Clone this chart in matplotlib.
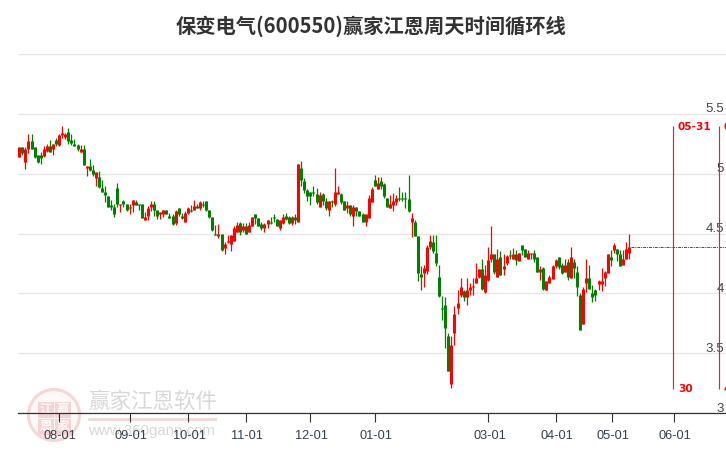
import matplotlib
matplotlib.use("Agg")
import matplotlib.pyplot as plt
from matplotlib.patches import Circle, Rectangle
from matplotlib.transforms import ScaledTranslation

title = "保变电气(600550)赢家江恩周天时间循环线"

opens = [5.14,5.22,5.10,5.21,5.27,5.22,5.16,5.16,5.15,5.19,
5.23,5.21,5.28,5.24,5.32,5.31,5.35,5.28,5.25,5.24,
5.18,5.21,5.05,5.06,5.03,4.96,4.97,4.88,4.85,4.81,
4.74,4.72,4.88,4.74,4.77,4.75,4.71,4.74,4.76,4.75,
4.75,4.61,4.65,4.72,4.75,4.70,4.66,4.66,4.70,4.65,
4.65,4.59,4.71,4.65,4.60,4.67,4.70,4.70,4.73,4.71,
4.75,4.77,4.70,4.64,4.50,4.48,4.50,4.38,4.43,4.41,
4.44,4.51,4.59,4.53,4.56,4.51,4.56,4.66,4.63,4.58,
4.55,4.58,4.60,4.64,4.62,4.55,4.59,4.65,4.64,4.59,
4.64,4.60,5.05,4.94,4.86,4.85,4.85,4.83,4.72,4.83,
4.77,4.70,4.77,4.75,4.83,4.83,4.77,4.71,4.74,4.65,
4.72,4.69,4.66,4.60,4.63,4.76,4.95,4.87,4.94,4.91,
4.80,4.71,4.74,4.76,4.80,4.80,4.80,4.79,4.60,4.60,
4.48,4.16,4.17,4.19,4.39,4.43,4.34,4.14,3.88,3.90,
3.64,3.24,3.67,3.88,3.99,4.02,3.97,4.03,4.05,4.09,
4.14,4.20,4.01,4.11,4.29,4.33,4.14,4.30,4.20,4.25,
4.32,4.29,4.33,4.27,4.40,4.37,4.29,4.33,4.34,4.30,
4.18,4.21,4.03,4.09,4.12,4.23,4.30,4.24,4.18,4.26,
4.13,4.26,4.18,3.99,3.74,4.09,4.13,4.00,4.03,4.08,
4.08,4.13,4.17,4.30,4.36,4.37,4.33,4.24,4.29,4.34]

closes = [5.22,5.17,5.21,5.27,5.21,5.14,5.10,5.13,5.21,5.23,
5.18,5.25,5.25,5.32,5.34,5.33,5.27,5.26,5.23,5.21,
5.21,5.07,5.06,5.03,5.00,5.01,4.89,4.85,4.82,4.72,
4.72,4.66,4.75,4.75,4.75,4.70,4.72,4.78,4.74,4.74,
4.63,4.64,4.71,4.75,4.70,4.65,4.68,4.70,4.66,4.63,
4.58,4.69,4.66,4.63,4.67,4.71,4.69,4.73,4.71,4.76,
4.74,4.70,4.64,4.53,4.49,4.50,4.36,4.41,4.44,4.49,
4.55,4.57,4.51,4.56,4.50,4.57,4.64,4.63,4.56,4.55,
4.58,4.61,4.59,4.63,4.56,4.61,4.64,4.62,4.59,4.64,
4.61,5.08,4.95,4.86,4.81,4.81,4.84,4.76,4.82,4.77,
4.71,4.77,4.76,4.85,4.85,4.76,4.70,4.74,4.66,4.72,
4.69,4.65,4.60,4.66,4.80,4.87,4.90,4.92,4.90,4.81,
4.72,4.75,4.77,4.80,4.79,4.79,4.79,4.69,4.63,4.48,
4.17,4.14,4.21,4.39,4.44,4.35,4.25,3.98,3.87,3.71,
3.35,3.57,3.83,3.92,4.05,3.97,4.03,4.05,4.06,4.13,
4.20,4.04,4.15,4.28,4.33,4.18,4.29,4.15,4.23,4.31,
4.31,4.33,4.28,4.34,4.36,4.30,4.34,4.34,4.29,4.18,
4.20,4.04,4.10,4.14,4.23,4.28,4.22,4.17,4.24,4.14,
4.30,4.21,4.05,3.69,4.04,4.13,4.04,3.97,3.99,4.10,
4.10,4.18,4.33,4.28,4.40,4.33,4.23,4.29,4.37,4.39]

highs = [5.22,5.22,5.22,5.33,5.33,5.22,5.16,5.18,5.23,5.25,
5.28,5.25,5.30,5.33,5.40,5.34,5.38,5.33,5.29,5.25,
5.24,5.24,5.06,5.12,5.07,5.01,5.02,4.95,4.90,4.81,
4.78,4.75,4.92,4.75,4.78,4.75,4.75,4.78,4.78,4.75,
4.75,4.68,4.73,4.77,4.77,4.70,4.68,4.70,4.70,4.67,
4.66,4.70,4.71,4.67,4.69,4.72,4.74,4.78,4.75,4.77,
4.77,4.77,4.70,4.64,4.57,4.58,4.50,4.43,4.49,4.49,
4.56,4.60,4.60,4.59,4.59,4.60,4.64,4.66,4.63,4.60,
4.59,4.61,4.64,4.66,4.62,4.61,4.66,4.67,4.65,4.65,
4.66,5.08,5.11,4.96,4.87,4.85,4.90,4.88,4.85,4.84,
4.80,4.77,4.78,5.05,4.90,4.84,4.77,4.77,4.74,4.74,
4.72,4.69,4.67,4.66,4.82,4.89,4.99,4.97,4.97,4.92,
4.80,4.82,4.84,4.82,4.89,4.85,4.85,4.99,4.67,4.61,
4.48,4.23,4.24,4.40,4.49,4.49,4.49,4.24,3.98,3.97,
3.67,3.64,3.89,4.03,4.13,4.03,4.13,4.09,4.13,4.25,
4.20,4.29,4.24,4.39,4.56,4.33,4.37,4.35,4.33,4.32,
4.36,4.38,4.36,4.34,4.40,4.37,4.36,4.34,4.36,4.30,
4.23,4.22,4.10,4.15,4.24,4.29,4.30,4.25,4.29,4.29,
4.39,4.29,4.23,4.00,4.05,4.29,4.24,4.07,4.04,4.11,
4.21,4.19,4.33,4.36,4.42,4.37,4.36,4.36,4.43,4.50]

lows = [5.14,5.16,5.04,5.17,5.21,5.13,5.09,5.08,5.14,5.18,
5.18,5.16,5.23,5.23,5.30,5.29,5.25,5.24,5.23,5.19,
5.18,5.07,4.98,5.02,4.98,4.90,4.88,4.85,4.76,4.72,
4.70,4.64,4.72,4.68,4.72,4.69,4.66,4.68,4.74,4.70,
4.63,4.61,4.61,4.69,4.65,4.62,4.62,4.64,4.66,4.63,
4.57,4.57,4.65,4.62,4.60,4.66,4.68,4.70,4.71,4.70,
4.72,4.69,4.63,4.52,4.49,4.46,4.35,4.33,4.42,4.35,
4.44,4.51,4.49,4.51,4.50,4.51,4.56,4.58,4.56,4.53,
4.51,4.55,4.58,4.60,4.56,4.53,4.58,4.61,4.58,4.57,
4.58,4.60,4.90,4.84,4.77,4.74,4.81,4.75,4.72,4.74,
4.70,4.65,4.72,4.73,4.83,4.75,4.70,4.67,4.65,4.56,
4.65,4.65,4.60,4.56,4.63,4.76,4.90,4.87,4.87,4.80,
4.72,4.71,4.69,4.74,4.77,4.77,4.71,4.68,4.47,4.48,
4.10,4.03,4.05,4.16,4.37,4.34,4.23,3.97,3.78,3.54,
3.35,3.21,3.57,3.83,3.97,3.94,3.90,3.99,3.99,4.09,
4.13,4.03,4.00,4.10,4.26,4.16,4.14,4.15,4.15,4.24,
4.29,4.29,4.24,4.27,4.32,4.30,4.29,4.29,4.26,4.18,
4.11,4.03,4.03,4.09,4.12,4.21,4.20,4.16,4.18,4.11,
4.13,4.13,3.98,3.69,3.74,4.01,4.04,3.93,3.94,4.03,
4.02,4.06,4.17,4.23,4.34,4.27,4.23,4.24,4.29,4.29]

date_ticks = [13, 36, 55, 74, 95, 116, 153, 175, 193.4, 213.6]
date_labels = ["08-01","09-01","10-01","11-01","12-01","01-01","03-01","04-01","05-01","06-01"]
price_ticks = [3, 3.5, 4, 4.5, 5, 5.5, 6]
price_labels = ["3", "3.5", "4", "4.5", "5", "5.5", ""]
cycle_pos = [213.4, 228.4]
cycle_dates = ["05-31", "06-15"]
cycle_days = ["30", "45"]
cycle_low, cycle_high = 3.2, 5.4

W, H = 726, 450
UP, DOWN = "#ff0000", "#008000"
plt.rcParams["font.family"] = ["Liberation Sans", "DejaVu Sans"]
CJK = ["Noto Sans CJK SC", "DejaVu Sans"]

fig = plt.figure(figsize=(W/100, H/100), dpi=100, facecolor="white")

# watermark layer, in figure pixels
bg = fig.add_axes([0, 0, 1, 1], zorder=0)
bg.set_xlim(0, W); bg.set_ylim(H, 0); bg.axis("off")
bg.add_patch(Circle((54, 415), 25.5, fc="#fef8f8", ec="#f6d6d6", lw=2.2))
for (sx, sy, ch) in [(38, 402, "江"), (55, 402, "赢"), (38, 419, "恩"), (55, 419, "家")]:
    bg.add_patch(Rectangle((sx, sy), 15.5, 15.5, fc="#f5d3d3", ec="none"))
    bg.text(sx+7.7, sy+7.7, ch, family=CJK, fontsize=9, weight="bold", color="#fef8f8", ha="center", va="center")
bg.text(88, 402, "赢家江恩软件", family=CJK, fontsize=15.5, weight="medium", color="#d8d8d8", va="center", ha="left")
bg.add_patch(Rectangle((88, 418), 129, 3, fc="#f0dada", ec="none"))
bg.text(88, 431, "www.360gann.com", fontsize=10.8, color="#d8d8d8", va="center", ha="left")

left, right, bottom, top = 18, 726, 413, 54
ax = fig.add_axes([left/W, 1-bottom/H, (right-left)/W, (bottom-top)/H], zorder=1)
ax.patch.set_alpha(0)
ax.set_xlim(-0.42, 230.6)
ax.set_ylim(3, 6)

n = len(opens)
xs = list(range(n))
colors = [UP if c >= o else DOWN for o, c in zip(opens, closes)]
ax.vlines(xs, lows, highs, colors=colors, lw=0.9, zorder=3)
ax.vlines(xs, [min(o, c) for o, c in zip(opens, closes)],
          [max(o, c) for o, c in zip(opens, closes)],
          colors=colors, lw=2.2, zorder=4, capstyle="butt")

ax.plot([n-0.5, 230.6], [closes[-1], closes[-1]], color="#1a6b1a", lw=0.7, ls=(0, (3, 1, 1, 1)), zorder=3)

for x, d, t in zip(cycle_pos, cycle_dates, cycle_days):
    ax.vlines(x, cycle_low, cycle_high, color="#d42a2a", lw=0.85, zorder=5)
    ax.annotate(d, (x, cycle_high), xytext=(3.3, -0.8), textcoords="offset points", family="DejaVu Sans",
                weight="bold", fontsize=7.6, color="#ff0000", va="center", ha="left", annotation_clip=False)
    ax.annotate(t, (x, cycle_low), xytext=(3.3, 0), textcoords="offset points", family="DejaVu Sans",
                weight="bold", fontsize=7.6, color="#ff0000", va="center", ha="left", annotation_clip=False)

ax.set_yticks(price_ticks)
ax.set_yticklabels([])
ax.tick_params(axis="y", length=0)
ax.grid(axis="y", color="#e6e6e6", lw=0.9, zorder=1)
ax.set_axisbelow(True)
for v, lab in zip(price_ticks, price_labels):
    ax.annotate(lab, (1, v), xycoords=ax.get_yaxis_transform(), xytext=(-1.5, 3.2), textcoords="offset points",
                ha="right", va="center", fontsize=9.6, color="#444444", annotation_clip=False)

ax.set_xticks(date_ticks)
ax.set_xticklabels(date_labels, fontsize=9.2, color="#33404d")
ax.tick_params(axis="x", length=6.8, width=0.8, color="#333333", pad=5.5)
shift = ScaledTranslation(1.2/100, 0, fig.dpi_scale_trans)
for lab in ax.get_xticklabels():
    lab.set_transform(lab.get_transform() + shift)
for s in ["top", "left", "right"]:
    ax.spines[s].set_visible(False)
ax.spines["bottom"].set_color("#333333")
ax.spines["bottom"].set_linewidth(0.9)

fig.text(371/W, 1-26.5/H, title, family=CJK, fontsize=14.6, weight="bold", color="#333333", ha="center", va="center")

fig.savefig("out.png", dpi=100)
